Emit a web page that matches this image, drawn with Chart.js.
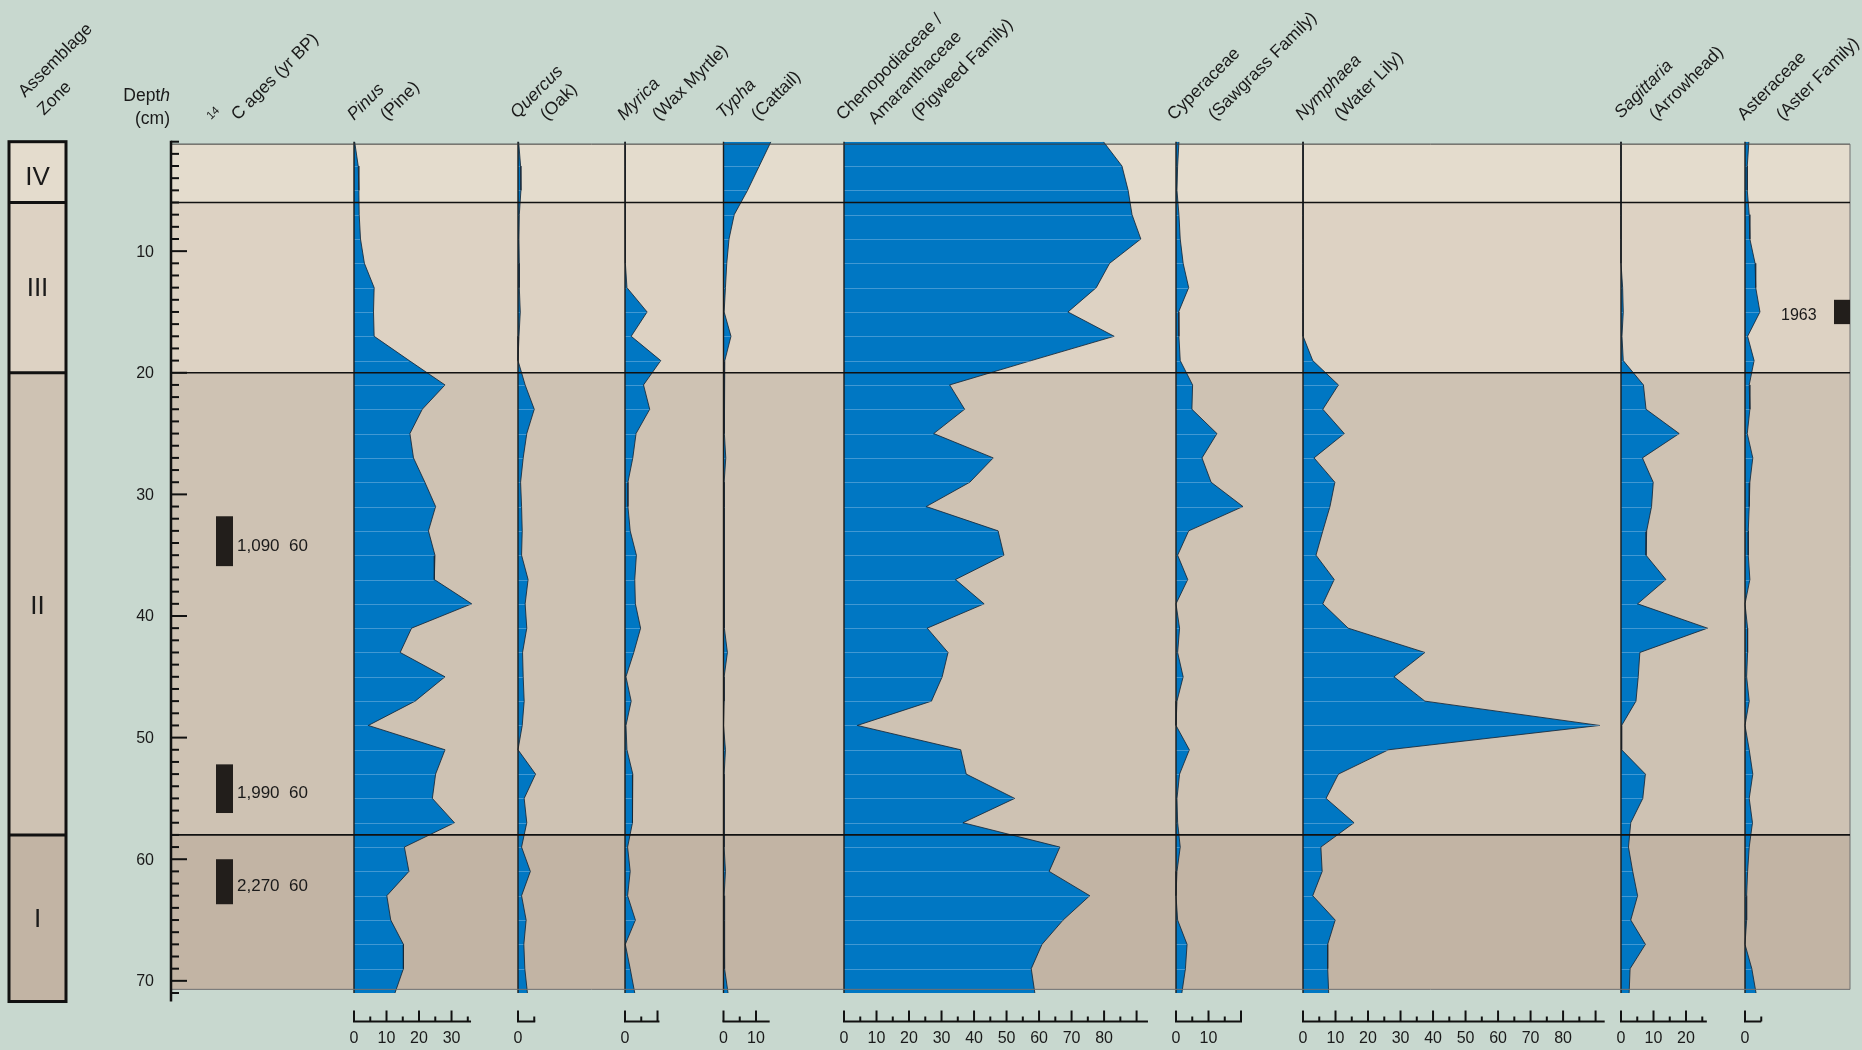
<!DOCTYPE html>
<html>
<head>
<meta charset="utf-8">
<title>Pollen diagram</title>
<script src="https://cdn.jsdelivr.net/npm/chart.js@4.4.0/dist/chart.umd.min.js"></script>
<style>
  html, body { margin: 0; padding: 0; background: #c8d8cf; }
  canvas { display: block; }
</style>
</head>
<body>
<canvas id="pollen" width="1862" height="1050"></canvas>
<script>
// ---- Data -----------------------------------------------------------------
// Sample depths (cm), one sample every 2 cm
const depths = [1, 3, 5, 7, 9, 11, 13, 15, 17, 19, 21, 23, 25, 27, 29, 31, 33, 35,
                37, 39, 41, 43, 45, 47, 49, 51, 53, 55, 57, 59, 61, 63, 65, 67, 69, 71];

// Pollen percentages per sample
const pinus      = [0.2, 1.3, 1.5, 1.6, 2, 3.2, 6.2, 6, 6.2, 17, 28, 21, 17.2, 18.3, 21.8, 25.1, 22.9, 24.9,
                    24.7, 36.2, 17.7, 14.2, 28, 18.8, 4.4, 28, 25.1, 24.1, 30.9, 15.5, 16.9, 10.1, 11.3, 15.2, 15.2, 12.6];
const quercus    = [0.2, 0.8, 0.9, 0.4, 0.3, 0.4, 0.4, 0.7, 0.3, 0, 2.2, 5.0, 2.7, 1.6, 0.8, 1.1, 1.3, 1.1,
                    3.1, 2.2, 2.7, 1.4, 1.6, 1.9, 1.3, 0, 5.4, 1.9, 2.7, 1.1, 3.8, 1.1, 2.5, 1.8, 2.1, 2.9];
const myrica     = [0, 0, 0, 0.1, 0.2, 0.3, 0.6, 6.8, 1.9, 11, 5.7, 7.6, 3.4, 2.4, 0.9, 0.9, 1.6, 3.5,
                    3.0, 3.2, 4.8, 2.7, 0.3, 1.9, 0.3, 0.6, 2.4, 2.2, 2.4, 0.8, 1.6, 0.8, 3.2, 0.1, 1.6, 3.0];
const typha      = [14.6, 11, 7.4, 3.3, 1.7, 1.0, 0.6, 0.2, 2.3, 0.4, 0.2, 0.2, 0.4, 0.7, 0.2, 0.4, 0.2, 0.2,
                    0.2, 0.2, 0.4, 1.2, 0.2, 0.2, 0, 0.6, 0.2, 0.2, 0.2, 0.2, 0.6, 0.2, 0.4, 0.2, 0.4, 1.4];
const chenoAm    = [79.8, 85.5, 87.4, 88.6, 91.3, 81.7, 77.6, 68.9, 83.1, 57.6, 32.5, 37.1, 27.6, 45.9, 38.7, 25.3, 47.4, 49.2,
                    34.3, 43.1, 25.6, 32, 30.2, 26.9, 4.1, 35.9, 37.6, 52.5, 36.6, 66.4, 63.1, 75.6, 67.4, 60.9, 57.6, 58.7];
const cyperaceae = [0.9, 0.5, 0.3, 0.9, 1.3, 2.2, 3.9, 0.8, 0.9, 1.3, 5.1, 4.9, 12.6, 8.0, 10.8, 20.6, 3.9, 0.5,
                    3.6, 0, 1.1, 0.5, 2.2, 0.3, 0, 4.1, 1.1, 0.3, 0.5, 1.3, 0.3, 0, 0.5, 3.4, 2.9, 1.8];
const nymphaea   = [0, 0.2, 0.1, 0, 0, 0, 0, 0, 0, 3.0, 10.9, 6.1, 12.7, 3.4, 9.8, 8.3, 6.1, 4.0,
                    9.6, 6.1, 13.9, 37.5, 28, 37.5, 91.2, 26.3, 10.9, 7.1, 15.7, 5.5, 5.9, 3.0, 9.9, 7.6, 7.6, 7.9];
const sagittaria = [0, 0, 0, 0, 0, 0, 0.5, 0.7, 0.3, 0.7, 6.9, 7.7, 17.9, 6.6, 9.9, 9.4, 7.9, 7.7,
                    13.8, 5.1, 26.6, 5.8, 5.3, 4.6, 0.2, 0.2, 7.5, 6.7, 3.0, 2.3, 3.6, 5.1, 3.0, 7.5, 2.8, 2.5];
const asteraceae = [1.2, 0.7, 0.7, 1.3, 1.5, 3.1, 3.3, 4.6, 0.8, 2.8, 1.3, 1.5, 0.7, 2.4, 1.5, 1.3, 1.0, 1.0,
                    1.5, 0, 0.8, 0.8, 0.5, 1.3, 0, 1.3, 2.4, 1.3, 2.3, 1.3, 0.8, 0.5, 0.5, 0, 2.1, 3.4];

// Taxon names (first line) and common names (following lines)
const taxonNames  = ['Pinus', 'Quercus', 'Myrica', 'Typha', 'Chenopodiaceae /', 'Cyperaceae', 'Nymphaea', 'Sagittaria', 'Asteraceae'];
const commonNames = [['(Pine)'], ['(Oak)'], ['(Wax Myrtle)'], ['(Cattail)'], ['Amaranthaceae', '(Pigweed Family)'],
                     ['(Sawgrass Family)'], ['(Water Lily)'], ['(Arrowhead)'], ['(Aster Family)']];
const italicName  = [true, true, true, true, false, false, true, true, false];

// Percentage scale bars: extent and labelled ticks
const scaleEnds   = [36, 5.3, 10.6, 14.2, 93.5, 20.3, 92.8, 26.4, 5];
const scaleLabels = [[0, 10, 20, 30], [0], [0], [0, 10], [0, 10, 20, 30, 40, 50, 60, 70, 80],
                     [0, 10], [0, 10, 20, 30, 40, 50, 60, 70, 80], [0, 10, 20], [0]];

// Assemblage zones (top to bottom) and their depth limits
const zoneNames  = ['IV', 'III', 'II', 'I'];
const zoneBounds = [1, 6, 20, 58, 71.7];

// Radiocarbon dates: label and sampled depth interval (cm)
const dateLabels  = ['1,090  60', '1,990  60', '2,270  60'];
const dateTops    = [31.8, 52.2, 60.0];
const dateBottoms = [35.9, 56.2, 63.7];
const markerLabel = '1963';
const markerTop = 14.0, markerBottom = 16.0;

// ---- Layout / style --------------------------------------------------------
const series = [pinus, quercus, myrica, typha, chenoAm, cyperaceae, nymphaea, sagittaria, asteraceae];
const baselinePx = [354, 518, 625, 723.5, 844, 1176, 1303, 1621, 1745]; // x position of each 0 %
const PX_PER_PCT = 3.251;
const AREA = { left: 172, right: 1850, top: 141.7, bottom: 993 };
const PANEL_TOP_DEPTH = 1.2, PANEL_BOTTOM_DEPTH = 70.7;
const CANVAS_W = 1862, CANVAS_H = 1050;
const BLUE = '#0077c3';
const BG = '#c8d8cf';
const zoneFill = ['#e4dccd', '#ddd2c3', '#cec2b3', '#c2b4a4'];
const FONT = '"Liberation Sans", Arial, Helvetica, sans-serif';

// Header anchors: baseline start of each rotated line
const HDR_DX = 6, HDR_DY = 3;
const headerAnchors = [
  [[348, 118], [381, 118]],
  [[511, 116], [541, 118]],
  [[618, 118], [653, 118]],
  [[717, 116], [752, 118]],
  [[837, 118], [869, 122], [912, 118]],
  [[1168, 118], [1209, 118]],
  [[1296, 118], [1335, 118]],
  [[1615, 116], [1650, 118]],
  [[1738, 118], [1777, 118]]
];

// Each taxon gets its own x scale so its 0 % sits at its column baseline
const scales = {
  y: { type: 'linear', min: 1, max: 71, reverse: true, display: false }
};
series.forEach((s, i) => {
  const min = -(baselinePx[i] - AREA.left) / PX_PER_PCT;
  const max = (AREA.right - baselinePx[i]) / PX_PER_PCT;
  scales['x' + i] = { type: 'linear', min: min, max: max, display: false };
});

const datasets = series.map((values, i) => ({
  label: taxonNames[i],
  data: values.map((v, k) => ({ x: v, y: depths[k] })),
  xAxisID: 'x' + i,
  yAxisID: 'y',
  indexAxis: 'y',
  fill: 'origin',
  backgroundColor: BLUE,
  borderColor: 'rgba(25,40,55,0.85)',
  borderWidth: 1,
  pointRadius: 0,
  tension: 0
}));

function line(ctx, x1, y1, x2, y2) {
  ctx.beginPath(); ctx.moveTo(x1, y1); ctx.lineTo(x2, y2); ctx.stroke();
}

function rotatedText(ctx, text, x, y, font) {
  ctx.save();
  ctx.translate(x, y);
  ctx.rotate(-Math.PI / 4);
  ctx.font = font;
  ctx.textAlign = 'left';
  ctx.textBaseline = 'alphabetic';
  ctx.fillText(text, 0, 0);
  ctx.restore();
}

const diagramDecor = {
  id: 'diagramDecor',
  beforeDraw(chart) {
    const ctx = chart.ctx;
    const y = chart.scales.y;
    ctx.save();
    ctx.fillStyle = BG;
    ctx.fillRect(0, 0, chart.width, chart.height);
    // zone bands behind the curves
    const pTop = y.getPixelForValue(PANEL_TOP_DEPTH);
    const pBot = y.getPixelForValue(PANEL_BOTTOM_DEPTH);
    for (let i = 0; i < zoneNames.length; i++) {
      const t = Math.max(y.getPixelForValue(zoneBounds[i]), pTop);
      const b = Math.min(y.getPixelForValue(zoneBounds[i + 1]), pBot);
      ctx.fillStyle = zoneFill[i];
      ctx.fillRect(AREA.left, t, AREA.right - AREA.left, b - t);
    }
    ctx.restore();
  },
  afterDatasetsDraw(chart) {
    const ctx = chart.ctx;
    const y = chart.scales.y;
    ctx.save();
    // faint sample lines inside each curve
    ctx.strokeStyle = 'rgba(130,185,228,0.5)';
    ctx.lineWidth = 1;
    series.forEach((s, i) => {
      const meta = chart.getDatasetMeta(i);
      const x0 = chart.scales['x' + i].getPixelForValue(0);
      meta.data.forEach((pt, k) => {
        if (k === 0 || k === meta.data.length - 1) return;
        const yy = Math.round(pt.y) + 0.5;
        line(ctx, x0, yy, pt.x - 0.5, yy);
      });
    });
    // column baselines
    ctx.strokeStyle = '#1c1c1c';
    ctx.lineWidth = 1.4;
    series.forEach((s, i) => {
      const x0 = chart.scales['x' + i].getPixelForValue(0);
      line(ctx, x0, y.getPixelForValue(1), x0, y.getPixelForValue(71));
    });
    // panel border
    const pTop = y.getPixelForValue(PANEL_TOP_DEPTH);
    const pBot = y.getPixelForValue(PANEL_BOTTOM_DEPTH);
    ctx.strokeStyle = '#3c3c3c';
    ctx.lineWidth = 1;
    line(ctx, AREA.left, pTop, AREA.right, pTop);
    ctx.strokeStyle = '#707070';
    line(ctx, AREA.left, pBot, AREA.right, pBot);
    line(ctx, AREA.right, pTop, AREA.right, pBot);
    // zone boundaries
    ctx.strokeStyle = '#111';
    ctx.lineWidth = 1.7;
    for (let i = 1; i < zoneNames.length; i++) {
      const yy = y.getPixelForValue(zoneBounds[i]);
      line(ctx, AREA.left - 1, yy, AREA.right, yy);
    }
    ctx.restore();
  },
  afterDraw(chart) {
    const ctx = chart.ctx;
    const y = chart.scales.y;
    ctx.save();
    ctx.fillStyle = '#1a1a1a';
    ctx.strokeStyle = '#111';

    // ---- assemblage zone column
    const zL = 9, zR = 66;
    const labelNudge = [5, 0, 2, 1];
    for (let i = 0; i < zoneNames.length; i++) {
      const t = y.getPixelForValue(zoneBounds[i]);
      const b = y.getPixelForValue(zoneBounds[i + 1]);
      ctx.fillStyle = zoneFill[i];
      ctx.fillRect(zL, t, zR - zL, b - t);
      ctx.fillStyle = '#1a1a1a';
      ctx.font = '26px ' + FONT;
      ctx.textAlign = 'center';
      ctx.textBaseline = 'middle';
      ctx.fillText(zoneNames[i], (zL + zR) / 2, (t + b) / 2 + 1 + labelNudge[i]);
    }
    ctx.lineWidth = 3;
    ctx.strokeRect(zL, y.getPixelForValue(zoneBounds[0]), zR - zL,
                   y.getPixelForValue(zoneBounds[zoneNames.length]) - y.getPixelForValue(zoneBounds[0]));
    for (let i = 1; i < zoneNames.length; i++) {
      const yy = y.getPixelForValue(zoneBounds[i]);
      line(ctx, zL, yy, zR, yy);
    }

    // ---- depth axis
    const ax = 171;
    ctx.lineWidth = 2.5;
    line(ctx, ax, y.getPixelForValue(1) - 1, ax, y.getPixelForValue(71.7));
    ctx.lineWidth = 2;
    ctx.font = '16px ' + FONT;
    ctx.textAlign = 'right';
    ctx.textBaseline = 'middle';
    for (let d = 1; d <= 71; d++) {
      const yy = y.getPixelForValue(d);
      const major = d % 10 === 0;
      line(ctx, ax, yy, ax + (major ? 16 : 8), yy);
      if (major) ctx.fillText(String(d), 154, yy + 1);
    }

    // ---- radiocarbon dates
    ctx.font = '17px ' + FONT;
    ctx.textAlign = 'left';
    for (let i = 0; i < dateLabels.length; i++) {
      const t = y.getPixelForValue(dateTops[i]);
      const b = y.getPixelForValue(dateBottoms[i]);
      ctx.fillStyle = '#221e1b';
      ctx.fillRect(216, t, 17, b - t);
      ctx.fillStyle = '#1a1a1a';
      ctx.fillText(dateLabels[i], 237, (t + b) / 2 + 5);
    }
    // 1963 marker
    {
      const t = y.getPixelForValue(markerTop);
      const b = y.getPixelForValue(markerBottom);
      ctx.fillStyle = '#221e1b';
      ctx.fillRect(1834, t, AREA.right - 1834, b - t);
      ctx.fillStyle = '#1a1a1a';
      ctx.font = '16px ' + FONT;
      ctx.fillText(markerLabel, 1781, (t + b) / 2 + 4);
    }

    // ---- percentage scale bars below each column
    const barY = 1021.5;
    ctx.lineWidth = 2;
    ctx.font = '16px ' + FONT;
    ctx.textAlign = 'center';
    ctx.textBaseline = 'middle';
    series.forEach((s, i) => {
      const xs = chart.scales['x' + i];
      const x0 = xs.getPixelForValue(0);
      const x1 = xs.getPixelForValue(scaleEnds[i]);
      line(ctx, x0 - 1, barY, x1, barY);
      for (let v = 0; v <= scaleEnds[i] + 0.01; v += 5) {
        const xx = xs.getPixelForValue(v);
        line(ctx, xx, barY, xx, barY - (v % 10 === 0 ? 11 : 5));
      }
      scaleLabels[i].forEach(v => {
        ctx.fillText(String(v), xs.getPixelForValue(v), 1039);
      });
    });

    // ---- headers
    ctx.fillStyle = '#1a1a1a';
    const hFont = '17.5px ' + FONT;
    const hItalic = 'italic 17.5px ' + FONT;
    rotatedText(ctx, 'Assemblage', 19 + HDR_DX, 93 + 5, hFont);
    rotatedText(ctx, 'Zone', 38 + HDR_DX, 115 + 1, hFont);
    rotatedText(ctx, '14', 207 + 4, 118 + 2, '11.5px ' + FONT);
    rotatedText(ctx, 'C ages (yr BP)', 232 + HDR_DX, 118 + HDR_DY, hFont);
    taxonNames.forEach((name, i) => {
      const a = headerAnchors[i];
      rotatedText(ctx, name, a[0][0] + HDR_DX, a[0][1] + HDR_DY, italicName[i] ? hItalic : hFont);
      commonNames[i].forEach((c, j) =>
        rotatedText(ctx, c, a[j + 1][0] + HDR_DX, a[j + 1][1] + HDR_DY, hFont));
    });
    // depth header: "Dept" upright with an italic "h"
    ctx.textAlign = 'left';
    ctx.textBaseline = 'alphabetic';
    ctx.font = hFont;
    const wDept = ctx.measureText('Dept').width;
    ctx.font = hItalic;
    const wH = ctx.measureText('h').width;
    const dx = 170 - wDept - wH;
    ctx.font = hFont;
    ctx.fillText('Dept', dx, 101);
    ctx.font = hItalic;
    ctx.fillText('h', dx + wDept, 101);
    ctx.font = hFont;
    ctx.textAlign = 'right';
    ctx.fillText('(cm)', 170, 124);

    ctx.restore();
  }
};

new Chart(document.getElementById('pollen'), {
  type: 'line',
  data: { datasets: datasets },
  options: {
    responsive: false,
    animation: false,
    devicePixelRatio: 1,
    layout: { padding: { left: AREA.left, right: CANVAS_W - AREA.right, top: AREA.top, bottom: CANVAS_H - AREA.bottom } },
    plugins: { legend: { display: false }, tooltip: { enabled: false } },
    scales: scales
  },
  plugins: [diagramDecor]
});
</script>
</body>
</html>
